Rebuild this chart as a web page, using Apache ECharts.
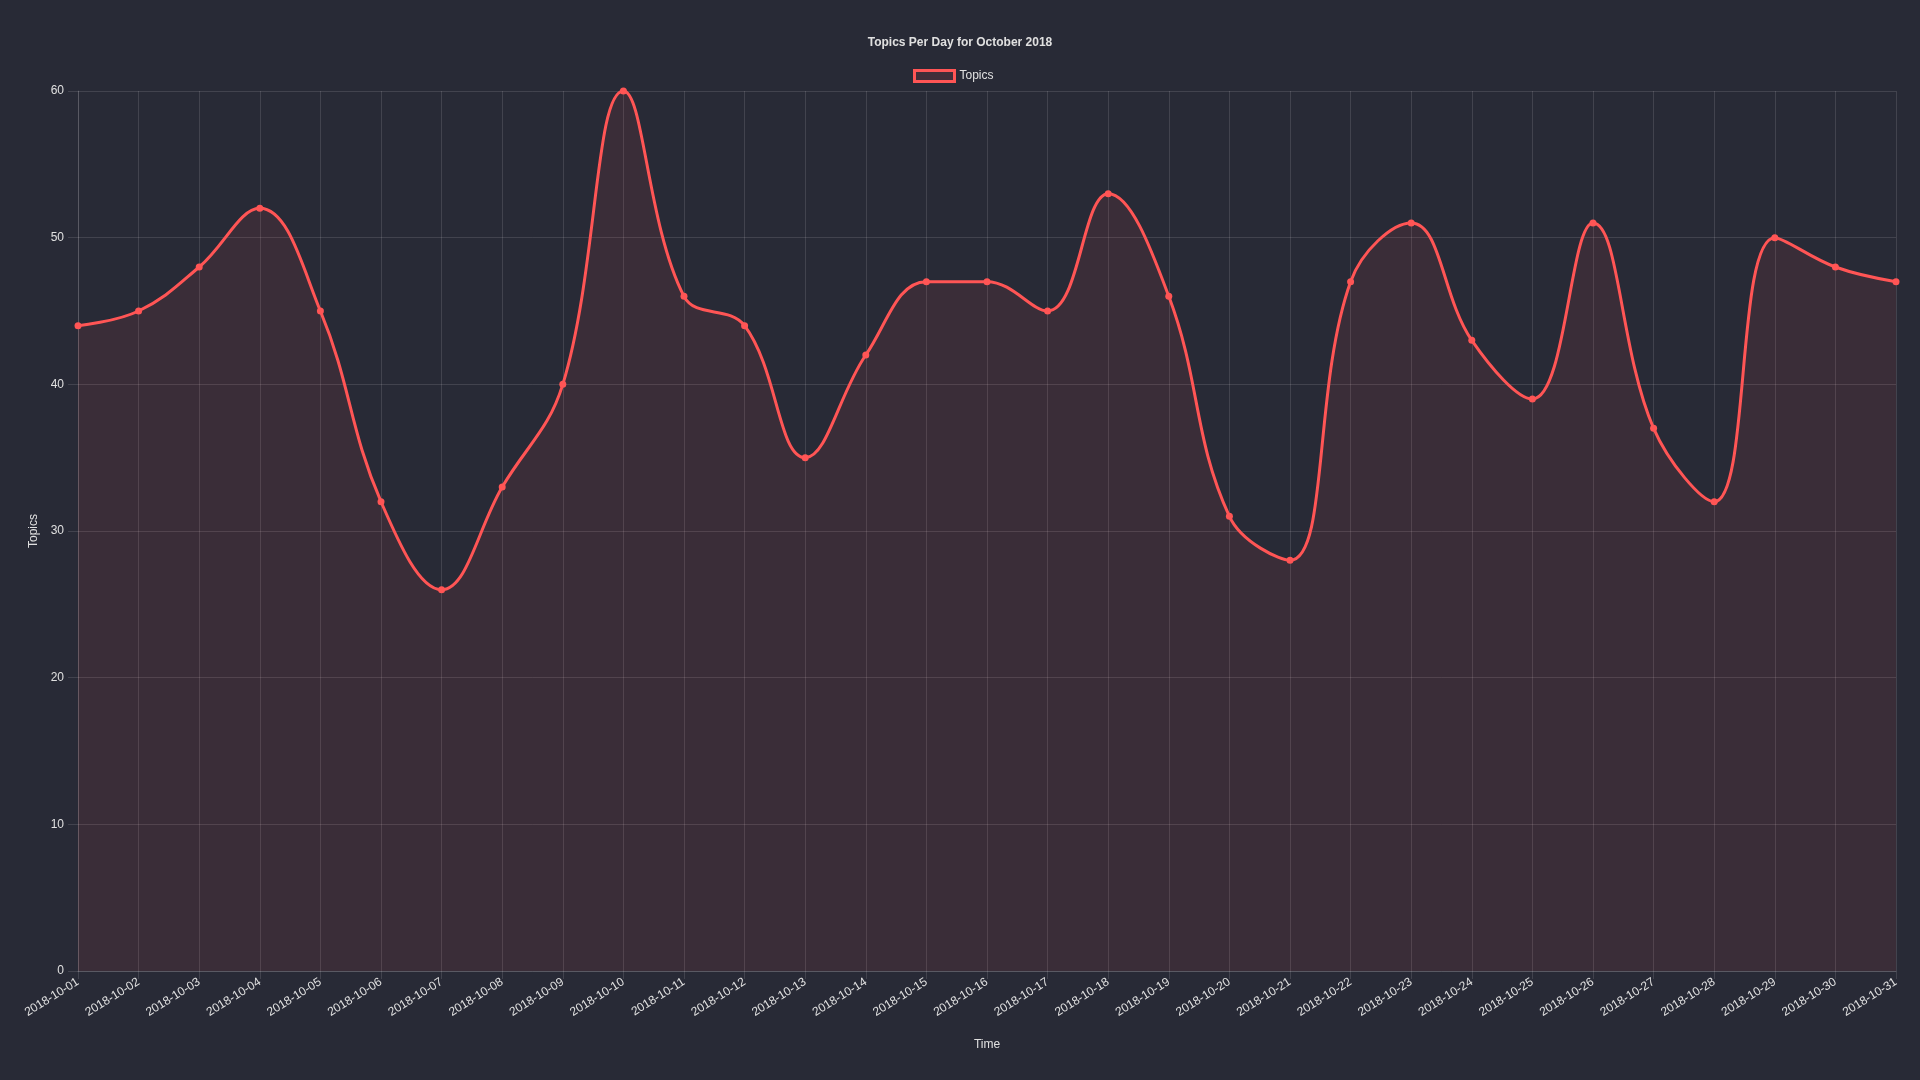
<!DOCTYPE html>
<html><head><meta charset="utf-8">
<script src="https://cdn.jsdelivr.net/npm/echarts@6/dist/echarts.min.js"></script>
<style>html,body{margin:0;padding:0;background:#282a36;}#c{width:1920px;height:1080px;}</style>
</head><body><div id="c"></div>
<script>
const categories = ['2018-10-01','2018-10-02','2018-10-03','2018-10-04','2018-10-05','2018-10-06','2018-10-07','2018-10-08','2018-10-09','2018-10-10','2018-10-11','2018-10-12','2018-10-13','2018-10-14','2018-10-15','2018-10-16','2018-10-17','2018-10-18','2018-10-19','2018-10-20','2018-10-21','2018-10-22','2018-10-23','2018-10-24','2018-10-25','2018-10-26','2018-10-27','2018-10-28','2018-10-29','2018-10-30','2018-10-31'];
const topics = [44,45,48,52,45,32,26,33,40,60,46,44,35,42,47,47,45,53,46,31,28,47,51,43,39,51,37,32,50,48,47];

const font = 'Liberation Sans, Arial, Helvetica, sans-serif';
const gridColor = 'rgba(255,255,255,0.12)';
const textColor = '#e0e0e0';
const chart = echarts.init(document.getElementById('c'));
chart.setOption({
  backgroundColor: '#282a36',
  animation: false,
  title: {
    text: 'Topics Per Day for October 2018',
    left: 'center', top: 32,
    textStyle: {color: textColor, fontSize: 12, fontWeight: 'bold', fontFamily: font}
  },
  legend: {
    top: 64, left: 908,
    itemWidth: 40, itemHeight: 11, itemGap: 10,
    icon: 'rect',
    textStyle: {color: textColor, fontSize: 12, fontFamily: font},
    data: [{name: 'Topics', itemStyle: {color: 'rgba(255,85,85,0.12)', borderColor: '#ff5555', borderWidth: 3}}]
  },
  grid: {left: 78, right: 24, top: 91, bottom: 109, containLabel: false},
  xAxis: {
    type: 'category', data: categories, boundaryGap: false,
    name: 'Time', nameLocation: 'middle', nameGap: 68,
    nameTextStyle: {color: textColor, fontSize: 12, fontFamily: font},
    axisLine: {show: true, lineStyle: {color: gridColor}},
    axisTick: {show: true, length: 8, lineStyle: {color: gridColor}},
    splitLine: {show: true, lineStyle: {color: gridColor}},
    axisLabel: {color: textColor, fontSize: 12, fontFamily: font, rotate: 32, margin: 10, interval: 0}
  },
  yAxis: {
    type: 'value', min: 0, max: 60, interval: 10,
    name: 'Topics', nameLocation: 'middle', nameGap: 35,
    nameTextStyle: {color: textColor, fontSize: 12, fontFamily: font},
    axisLine: {show: true, lineStyle: {color: gridColor}},
    axisTick: {show: true, length: 10, lineStyle: {color: gridColor}},
    splitLine: {show: true, lineStyle: {color: gridColor}},
    axisLabel: {color: textColor, fontSize: 12, fontFamily: font, margin: 14}
  },
  series: [{
    name: 'Topics', type: 'line', data: topics, smooth: 0.4,
    symbol: 'circle', symbolSize: 7,
    lineStyle: {color: '#ff5555', width: 3},
    itemStyle: {color: '#ff5555'},
    areaStyle: {color: 'rgba(255,85,85,0.12)'}
  }]
});
</script></body></html>
